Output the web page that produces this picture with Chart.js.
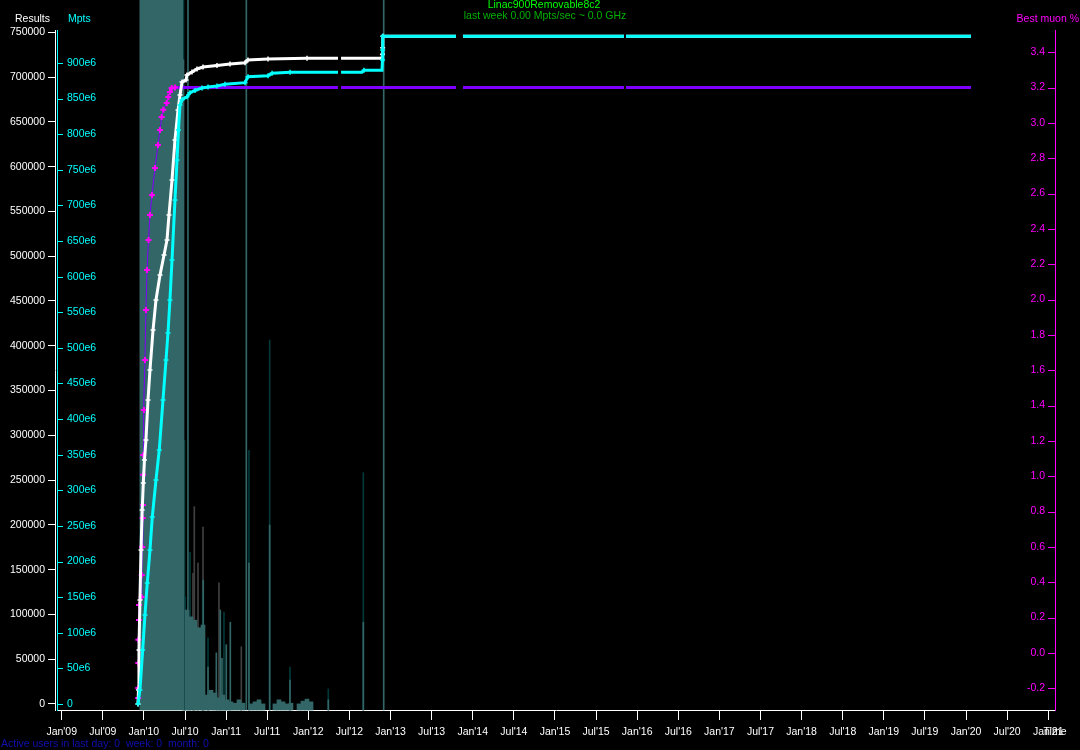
<!DOCTYPE html>
<html>
<head>
<meta charset="utf-8">
<script src="https://cdn.jsdelivr.net/npm/chart.js@4.4.1/dist/chart.umd.min.js"></script>
<style>
  html, body { margin: 0; padding: 0; background: #000; }
  canvas { display: block; }
</style>
</head>
<body>
<canvas id="chart" width="1080" height="750"></canvas>
<script>
// Results (white line), dates as decimal years
const resDates = [2009.928, 2009.934, 2009.940, 2009.952, 2009.965, 2009.979, 2009.993, 2010.007, 2010.025, 2010.050,
  2010.074, 2010.111, 2010.147, 2010.196, 2010.245, 2010.281, 2010.305, 2010.342, 2010.378, 2010.415,
  2010.439, 2010.464, 2010.512, 2010.524, 2010.585, 2010.646, 2010.719, 2010.889, 2011.047, 2011.230,
  2011.266, 2011.510, 2011.984, 2012.361, 2012.380, 2012.398, 2012.896, 2012.902, 2012.904, 2012.908,
  2013.796, 2013.840, 2013.881, 2015.840, 2015.852, 2015.864, 2020.061];
const resValues = [0, 15600, 60300, 116100, 172000, 216600, 246800, 272500, 294800, 339400,
  373000, 417600, 451100, 479000, 501300, 518100, 546000, 585100, 629800, 663200,
  680000, 694500, 696800, 702400, 705700, 709100, 711300, 713000, 714600, 716100,
  719100, 720200, 721000, 721000, null, 721000, 721000, 725500, 732800, 745500,
  745500, null, 745500, 745500, null, 745500, 745500];

// Mpts (cyan line)
const mptsDates = [2009.928, 2009.952, 2009.985, 2010.013, 2010.041, 2010.074, 2010.102, 2010.147, 2010.187, 2010.232,
  2010.269, 2010.293, 2010.317, 2010.342, 2010.378, 2010.403, 2010.421, 2010.439, 2010.464, 2010.524,
  2010.561, 2010.622, 2010.707, 2010.780, 2010.889, 2010.986, 2011.230, 2011.266, 2011.510, 2011.559,
  2011.778, 2012.361, 2012.380, 2012.398, 2012.653, 2012.677, 2012.896, 2012.902, 2012.904, 2012.908,
  2013.796, 2013.840, 2013.881, 2015.840, 2015.852, 2015.864, 2020.061];
const mptsValues = [0, 19.7e6, 75.8e6, 125e6, 169.9e6, 216.2e6, 262.6e6, 314.5e6, 356.6e6, 426.8e6,
  483e6, 520.9e6, 567.3e6, 623.4e6, 707.7e6, 763.8e6, 806e6, 841e6, 848.5e6, 852.7e6,
  858.3e6, 861.4e6, 865e6, 866.3e6, 867.7e6, 870e6, 872.4e6, 880.8e6, 882.2e6, 885.6e6,
  887e6, 887e6, null, 887e6, 887e6, 889.8e6, 889.8e6, 904.2e6, 918.3e6, 937.5e6,
  937.5e6, null, 937.5e6, 937.5e6, null, 937.5e6, 937.5e6];

// Best muon % (magenta points, purple line)
const muonDates = [2009.9310, 2009.9315, 2009.9320, 2009.9325, 2009.940, 2009.941, 2009.973, 2009.974, 2009.980, 2009.986,
  2009.989, 2009.991, 2009.993, 2010.001, 2010.013, 2010.025, 2010.038, 2010.056, 2010.074, 2010.098,
  2010.135, 2010.171, 2010.196, 2010.216, 2010.236, 2010.277, 2010.297, 2010.317, 2010.338, 2010.378,
  2012.361, 2012.380, 2012.398, 2013.796, 2013.840, 2013.881, 2015.840, 2015.852, 2015.864, 2020.061];
const muonValues = [-0.255, -0.198, -0.057, 0.074, 0.187, 0.272, 0.317, 0.441, 0.600, 0.764,
  0.838, 1.008, 1.121, 1.375, 1.658, 1.941, 2.168, 2.338, 2.479, 2.592,
  2.745, 2.875, 2.960, 3.034, 3.074, 3.113, 3.147, 3.175, 3.198, 3.201,
  3.201, null, 3.201, 3.201, null, 3.201, 3.201, null, 3.201, 3.201];

// activity histogram (hidden scale, 100 = top of plot)
const blockDates = [2010.212];
const blockValues = [110];
const tealWideDates = [2010.524, 2010.573, 2010.621, 2010.670, 2010.719, 2010.767, 2010.816, 2010.865, 2010.913, 2010.962,
  2011.011, 2011.059, 2011.108, 2011.157, 2011.205, 2011.303, 2011.351, 2011.400, 2011.449, 2011.594,
  2011.643, 2011.692, 2011.740, 2011.789, 2011.887, 2011.935, 2011.984, 2012.033];
const tealWideValues = [14.7, 13.7, 13.2, 12.1, 12.5, 2.2, 2.9, 2.5, 1.8, 2.2,
  1.5, 1.2, 1.0, 1.5, 1.0, 0.9, 1.2, 1.5, 0.9, 0.9,
  1.5, 1.2, 0.9, 1.0, 0.9, 1.3, 1.6, 1.2];
const tealSpikeDates = [2010.481, 2010.536, 2010.722, 2010.780, 2010.881, 2010.929, 2010.950, 2011.002, 2011.051, 2011.246,
  2011.278, 2011.530, 2011.777, 2012.243, 2012.669, 2012.917];
const tealSpikeValues = [95.6, 110, 19.1, 6.3, 8.4, 14.7, 7.6, 9.6, 12.9, 110,
  21.6, 27.2, 4.4, 1.5, 12.9, 110];
const darkSpikeDates = [2010.481, 2010.494, 2010.503, 2010.561, 2010.715, 2010.780, 2010.974, 2011.278, 2011.530, 2011.777,
  2012.243, 2012.669];
const darkSpikeValues = [110, 39.7, 16.6, 23.2, 17.2, 10.6, 14.4, 38.2, 54.4, 6.3,
  3.1, 34.9];
const greySpikeDates = [2010.597, 2010.613, 2010.658, 2010.719, 2010.913, 2011.185];
const greySpikeValues = [20.1, 29.9, 21.6, 26.9, 18.7, 9.3];

// ticks
const xTicks = [2009, 2009.5, 2010, 2010.5, 2011, 2011.5, 2012, 2012.5, 2013, 2013.5, 2014, 2014.5,
  2015, 2015.5, 2016, 2016.5, 2017, 2017.5, 2018, 2018.5, 2019, 2019.5, 2020, 2020.5, 2021];
const resTicks = [0, 50000, 100000, 150000, 200000, 250000, 300000, 350000, 400000, 450000,
  500000, 550000, 600000, 650000, 700000, 750000];
const mptsTicks = [0, 50e6, 100e6, 150e6, 200e6, 250e6, 300e6, 350e6, 400e6, 450e6,
  500e6, 550e6, 600e6, 650e6, 700e6, 750e6, 800e6, 850e6, 900e6];
const muonTicks = [-0.2, 0, 0.2, 0.4, 0.6, 0.8, 1.0, 1.2, 1.4, 1.6, 1.8, 2.0, 2.2, 2.4, 2.6, 2.8, 3.0, 3.2, 3.4];

const FONT = 'Liberation Sans';
const zip = (xs, ys) => xs.map((x, i) => ({ x: x, y: ys[i] }));
const setTicks = list => s => { s.ticks = list.map(v => ({ value: v })); };

// marker only where the value changes
function markWhenChanged(vals, r) {
  return c => {
    const i = c.dataIndex;
    if (vals[i] === null) return 0;
    let j = i - 1;
    while (j >= 0 && vals[j] === null) j--;
    return (j < 0 || vals[j] !== vals[i]) ? r : 0;
  };
}

function lineSet(label, xs, ys, axis, line, point, r) {
  return {
    type: 'line', label: label, data: zip(xs, ys), yAxisID: axis,
    borderColor: line, borderWidth: 3, tension: 0, spanGaps: false,
    pointStyle: 'cross', pointRadius: markWhenChanged(ys, r),
    pointBorderColor: point, pointBorderWidth: 1.5, pointBackgroundColor: point
  };
}

function barSet(label, xs, ys, color, width) {
  return {
    type: 'bar', label: label, data: zip(xs, ys), yAxisID: 'yHist',
    backgroundColor: color, borderWidth: 0, barThickness: width,
    stack: 'hist', clip: false
  };
}

const muonSet = lineSet('Best muon %', muonDates, muonValues, 'yMuon', '#8000ff', '#ff00ff', 3);
muonSet.pointBorderWidth = 2;
// rising part is only a thin trace between the markers
muonSet.segment = { borderWidth: c => c.p0.parsed.y === c.p1.parsed.y ? 3 : 1 };

// inner tick marks and texts
const decor = {
  id: 'decor',
  afterDraw(chart) {
    const ctx = chart.ctx;
    const { yMpts, yMuon } = chart.scales;
    ctx.save();
    ctx.lineWidth = 1;
    ctx.strokeStyle = '#00ffff';
    yMpts.ticks.forEach(t => {
      const y = Math.round(yMpts.getPixelForValue(t.value)) + 0.5;
      ctx.beginPath(); ctx.moveTo(yMpts.right, y); ctx.lineTo(yMpts.right + 6, y); ctx.stroke();
    });
    ctx.strokeStyle = '#ff00ff';
    yMuon.ticks.forEach(t => {
      const y = Math.round(yMuon.getPixelForValue(t.value)) + 0.5;
      ctx.beginPath(); ctx.moveTo(yMuon.left - 7, y); ctx.lineTo(yMuon.left, y); ctx.stroke();
    });

    ctx.font = '10.5px "' + FONT + '"';
    ctx.textBaseline = 'middle';
    ctx.textAlign = 'left';
    ctx.fillStyle = '#ffffff';
    ctx.fillText('Results', 15, 19);
    ctx.fillStyle = '#00ffff';
    ctx.fillText('Mpts', 68, 19);
    ctx.textAlign = 'right';
    ctx.fillStyle = '#ff00ff';
    ctx.fillText('Best muon %', 1079, 19);
    ctx.textAlign = 'center';
    ctx.fillStyle = '#00ff00';
    ctx.fillText('Linac900Removable8c2', 544, 5);
    ctx.fillStyle = '#00b000';
    ctx.fillText('last week 0.00 Mpts/sec ~ 0.0 GHz', 545, 16);
    ctx.fillStyle = '#ffffff';
    ctx.fillText('Time', 1055, 732);
    ctx.textAlign = 'left';
    ctx.fillStyle = '#1010b0';
    ctx.fillText('Active users in last day: 0  week: 0  month: 0', 1, 744);
    ctx.restore();
  }
};

const tickFont = { family: FONT, size: 10.5 };

new Chart(document.getElementById('chart'), {
  type: 'line',
  data: {
    datasets: [
      lineSet('Mpts', mptsDates, mptsValues, 'yMpts', '#00ffff', '#00ffff', 2.5),
      lineSet('Results', resDates, resValues, 'yRes', '#ffffff', '#ffffff', 2.5),
      muonSet,
      barSet('tealSpikes', tealSpikeDates, tealSpikeValues, '#336666', 1),
      barSet('tealWide', tealWideDates, tealWideValues, '#336666', 4),
      barSet('block', blockDates, blockValues, '#336666', 43),
      barSet('darkSpikes', darkSpikeDates, darkSpikeValues, '#003838', 1),
      barSet('greySpikes', greySpikeDates, greySpikeValues, '#404040', 1)
    ]
  },
  options: {
    responsive: false,
    animation: false,
    devicePixelRatio: 1,
    layout: { padding: { top: 30, right: 23, left: 0, bottom: 0 } },
    plugins: { legend: { display: false }, tooltip: { enabled: false } },
    scales: {
      x: {
        type: 'linear', min: 2008.943, max: 2021.0825, offset: false,
        afterBuildTicks: setTicks(xTicks),
        afterFit: s => { s.height = 40; },
        border: { color: '#ffffff', width: 1 },
        grid: { offset: false, drawOnChartArea: false, tickLength: 10, color: '#ffffff' },
        ticks: {
          color: '#ffffff', font: tickFont, padding: 6, maxRotation: 0, autoSkip: false,
          callback: v => (Math.abs(v % 1) < 0.01 ? 'Jan' : 'Jul') + "'" + String(Math.floor(v)).slice(2)
        }
      },
      yRes: {
        type: 'linear', position: 'left', weight: 1, min: -6700, max: 752600,
        afterBuildTicks: setTicks(resTicks),
        afterFit: s => { s.width = 55; },
        border: { color: '#ffffff', width: 1 },
        grid: { drawOnChartArea: false, tickLength: 7, color: '#ffffff' },
        ticks: { color: '#ffffff', font: tickFont, padding: 3, callback: v => String(v) }
      },
      yMpts: {
        type: 'linear', position: 'left', weight: 0, min: -8.4e6, max: 946.3e6,
        afterBuildTicks: setTicks(mptsTicks),
        afterFit: s => { s.width = 2; },
        border: { color: '#00ffff', width: 1 },
        grid: { drawOnChartArea: false, drawTicks: false },
        ticks: { color: '#00ffff', font: tickFont, mirror: true, padding: 10,
          callback: v => v === 0 ? '0' : Math.round(v / 1e6) + 'e6' }
      },
      yMuon: {
        type: 'linear', position: 'right', min: -0.323, max: 3.526,
        afterBuildTicks: setTicks(muonTicks),
        afterFit: s => { s.width = 2; },
        border: { color: '#ff00ff', width: 1 },
        grid: { drawOnChartArea: false, drawTicks: false },
        ticks: { color: '#ff00ff', font: tickFont, mirror: true, padding: -10,
          callback: v => v.toFixed(1) }
      },
      yHist: { type: 'linear', display: false, min: 0, max: 100, stacked: false }
    }
  },
  plugins: [decor]
});
</script>
</body>
</html>
